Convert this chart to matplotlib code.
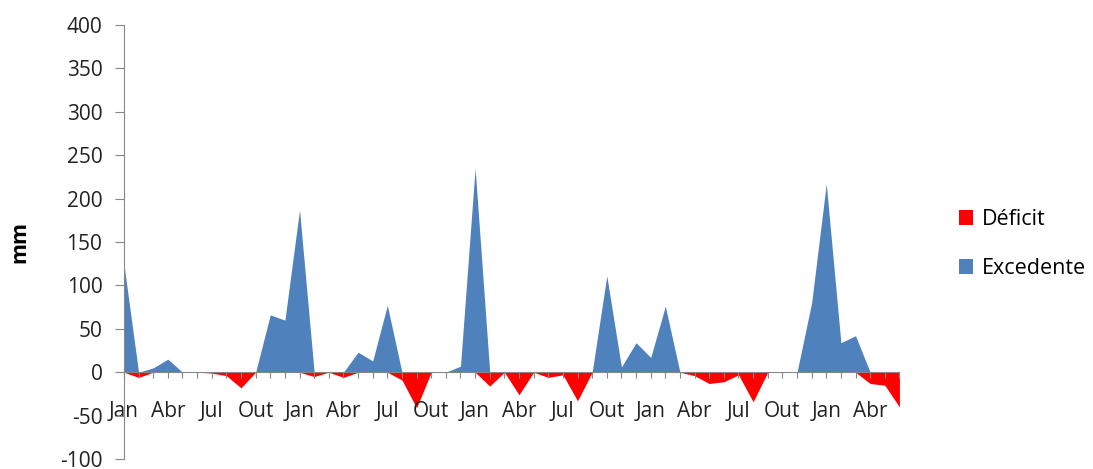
import matplotlib.pyplot as plt

# ========== 1. Dados (mm por mês) ==========
meses = ["Jan", "Fev", "Mar", "Abr", "Mai", "Jun", "Jul", "Ago", "Set", "Out", "Nov", "Dez"] * 5
meses = meses[:54]

excedente = [124, 0, 5, 15, 0, 0, 0, 0, 0, 0, 66, 60, 187, 0, 0, 0, 23, 13, 77, 0,
             0, 0, 0, 7, 235, 0, 0, 0, 0, 0, 0, 0, 0, 111, 6, 34, 17, 76, 0, 0,
             0, 0, 0, 0, 0, 0, 0, 80, 217, 34, 42, 0, 0, 0]
deficit = [0, -6, 0, 0, 0, 0, -1, -4, -18, 0, 0, 0, 0, -5, 0, -6, 0, 0, 0, -9,
           -41, 0, 0, 0, 0, -16, 0, -26, 0, -6, -3, -33, 0, 0, 0, 0, 0, 0, 0, -4,
           -13, -11, -3, -34, 0, 0, 0, 0, 0, 0, 0, -13, -15, -40]

x = list(range(len(meses)))

# ========== 2. Gráfico ==========
plt.rcParams['font.family'] = ['Open Sans', 'DejaVu Sans']
plt.rcParams['axes.unicode_minus'] = False
fig = plt.figure(figsize=(10.93, 4.69), dpi=100)
ax = fig.add_axes([0.1134, 0.0213, 0.7095, 0.9254])

ax.fill_between(x, deficit, 0, color="#FF0000", linewidth=0, label="Déficit")
ax.fill_between(x, excedente, 0, color="#4F81BD", linewidth=0, label="Excedente")

ax.set_xlim(0, len(meses) - 1)
ax.set_ylim(-100, 400)
ax.set_yticks(range(-100, 401, 50))

ax.set_xticks(x)
ax.set_xticklabels([m if i % 3 == 0 else "" for i, m in enumerate(meses)])

# eixos no estilo Excel
ax.spines['top'].set_visible(False)
ax.spines['right'].set_visible(False)
ax.spines['bottom'].set_position(('data', 0))
ax.spines['bottom'].set_color("#868686")
ax.spines['left'].set_color("#868686")
ax.tick_params(axis='y', colors="#868686", length=6.5, labelcolor="#222222", labelsize=15, pad=9)
ax.tick_params(axis='x', colors="#868686", length=4, labelcolor="#222222", labelsize=15, pad=17)

ax.set_ylabel("mm", fontsize=15.5, fontweight="bold", labelpad=21)

ax.legend(loc="center left", bbox_to_anchor=(1.052, 0.495), frameon=False, fontsize=15.5,
          handlelength=0.65, handleheight=0.65, labelspacing=1.3, handletextpad=0.4)

plt.savefig("out.png", dpi=100)
plt.close()
